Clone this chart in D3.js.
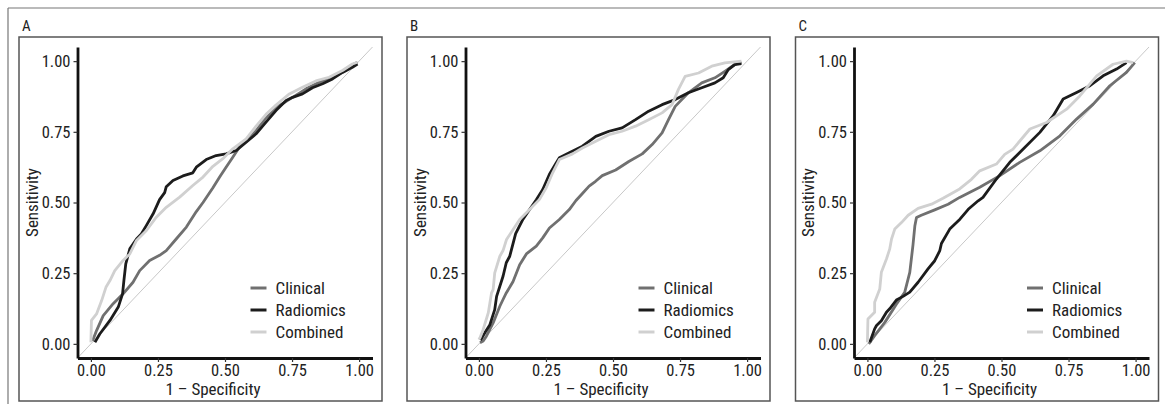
<!DOCTYPE html>
<html>
<head>
<meta charset="utf-8">
<script src="https://cdn.jsdelivr.net/npm/d3@7"></script>
<style>
  body { margin: 0; background: #fff; }
  text { font-family: "Liberation Sans Narrow", "Arial Narrow", "Roboto Condensed", sans-serif; fill: #222; }
</style>
</head>
<body>
<div id="chartDiv"></div>
<script>
// ---- data (1 - specificity, sensitivity) ----
var panelLabels = ["A", "B", "C"];
var seriesNames = ["Clinical", "Radiomics", "Combined"];
var tickValues = [0, 0.25, 0.5, 0.75, 1];
var tickLabels = ["0.00", "0.25", "0.50", "0.75", "1.00"];

var clinicalA = [[0.006,0.01],[0.021,0.047],[0.046,0.10],[0.083,0.142],[0.12,0.177],[0.157,0.218],[0.182,0.259],[0.219,0.295],[0.256,0.313],[0.281,0.33],[0.318,0.371],[0.356,0.413],[0.393,0.468],[0.418,0.50],[0.455,0.552],[0.48,0.59],[0.504,0.625],[0.529,0.66],[0.554,0.696],[0.579,0.722],[0.616,0.754],[0.653,0.80],[0.703,0.843],[0.752,0.872],[0.802,0.902],[0.851,0.925],[0.901,0.943],[0.95,0.967],[0.981,0.99],[0.994,0.996]];
var radiomicsA = [[0.015,0.006],[0.033,0.035],[0.071,0.083],[0.102,0.13],[0.118,0.177],[0.123,0.224],[0.13,0.283],[0.145,0.336],[0.17,0.371],[0.188,0.389],[0.207,0.419],[0.232,0.46],[0.256,0.51],[0.275,0.535],[0.281,0.556],[0.306,0.578],[0.343,0.594],[0.38,0.605],[0.393,0.625],[0.43,0.652],[0.467,0.666],[0.504,0.672],[0.542,0.684],[0.579,0.713],[0.616,0.743],[0.653,0.784],[0.69,0.825],[0.728,0.861],[0.752,0.872],[0.789,0.884],[0.826,0.906],[0.864,0.92],[0.901,0.937],[0.938,0.96],[0.975,0.978],[0.994,0.99]];
var combinedA = [[0.0,0.006],[0.002,0.083],[0.021,0.106],[0.04,0.153],[0.056,0.2],[0.071,0.224],[0.089,0.259],[0.12,0.295],[0.145,0.318],[0.17,0.366],[0.207,0.401],[0.244,0.448],[0.281,0.483],[0.331,0.519],[0.38,0.56],[0.418,0.59],[0.455,0.628],[0.492,0.655],[0.529,0.69],[0.579,0.725],[0.616,0.77],[0.653,0.812],[0.69,0.845],[0.74,0.884],[0.789,0.908],[0.839,0.93],[0.888,0.943],[0.938,0.967],[0.975,0.99],[0.994,0.996]];

var clinicalB = [[0.004,0.004],[0.016,0.01],[0.028,0.027],[0.053,0.074],[0.078,0.133],[0.09,0.157],[0.102,0.18],[0.127,0.22],[0.152,0.28],[0.177,0.318],[0.214,0.346],[0.238,0.375],[0.263,0.41],[0.3,0.44],[0.337,0.475],[0.362,0.507],[0.386,0.532],[0.411,0.558],[0.435,0.575],[0.46,0.595],[0.51,0.615],[0.559,0.645],[0.609,0.672],[0.646,0.705],[0.683,0.746],[0.707,0.793],[0.732,0.84],[0.781,0.888],[0.831,0.923],[0.88,0.941],[0.917,0.964],[0.954,0.988],[0.979,0.996]];
var radiomicsB = [[0.006,0.013],[0.022,0.039],[0.041,0.068],[0.059,0.121],[0.066,0.168],[0.09,0.239],[0.102,0.287],[0.115,0.31],[0.137,0.39],[0.164,0.44],[0.189,0.475],[0.214,0.51],[0.238,0.546],[0.263,0.600],[0.288,0.640],[0.3,0.658],[0.337,0.676],[0.386,0.699],[0.436,0.734],[0.485,0.752],[0.534,0.764],[0.584,0.793],[0.633,0.823],[0.683,0.846],[0.732,0.864],[0.781,0.888],[0.831,0.906],[0.88,0.923],[0.911,0.941],[0.93,0.97],[0.954,0.988],[0.979,0.991]];
var combinedB = [[0,0.015],[0.004,0.022],[0.016,0.051],[0.035,0.11],[0.047,0.18],[0.053,0.192],[0.059,0.251],[0.078,0.31],[0.09,0.33],[0.103,0.369],[0.127,0.404],[0.152,0.44],[0.189,0.475],[0.226,0.511],[0.251,0.552],[0.275,0.605],[0.3,0.652],[0.349,0.672],[0.386,0.693],[0.436,0.717],[0.485,0.74],[0.534,0.752],[0.584,0.77],[0.633,0.793],[0.683,0.817],[0.72,0.846],[0.744,0.9],[0.769,0.946],[0.819,0.958],[0.868,0.982],[0.917,0.994],[0.979,1.0]];

var clinicalC = [[0.005,0],[0.027,0.029],[0.065,0.076],[0.108,0.14],[0.139,0.182],[0.158,0.253],[0.17,0.35],[0.177,0.418],[0.183,0.447],[0.201,0.455],[0.251,0.474],[0.301,0.494],[0.344,0.518],[0.419,0.554],[0.494,0.595],[0.568,0.642],[0.643,0.683],[0.718,0.736],[0.78,0.795],[0.842,0.848],[0.904,0.913],[0.966,0.96],[0.997,0.995]];
var radiomicsC = [[0.009,0.006],[0.027,0.053],[0.034,0.065],[0.052,0.082],[0.071,0.112],[0.083,0.124],[0.108,0.155],[0.133,0.168],[0.158,0.183],[0.189,0.218],[0.226,0.265],[0.251,0.294],[0.27,0.33],[0.276,0.355],[0.307,0.406],[0.345,0.441],[0.376,0.476],[0.413,0.506],[0.431,0.518],[0.481,0.583],[0.531,0.642],[0.581,0.689],[0.643,0.748],[0.693,0.807],[0.73,0.866],[0.78,0.889],[0.83,0.913],[0.879,0.948],[0.929,0.972],[0.966,0.995]];
var combinedC = [[0,0.006],[0.002,0.088],[0.027,0.112],[0.027,0.147],[0.046,0.194],[0.052,0.253],[0.071,0.3],[0.083,0.335],[0.09,0.371],[0.102,0.406],[0.127,0.429],[0.152,0.455],[0.189,0.479],[0.239,0.494],[0.282,0.515],[0.344,0.548],[0.388,0.582],[0.419,0.612],[0.481,0.636],[0.512,0.67],[0.543,0.689],[0.606,0.76],[0.668,0.783],[0.743,0.83],[0.792,0.877],[0.855,0.948],[0.916,0.989],[0.966,1.0],[0.991,0.995]];

var panelData = [
  [clinicalA, radiomicsA, combinedA],
  [clinicalB, radiomicsB, combinedB],
  [clinicalC, radiomicsC, combinedC]
];
var colors = ["#707070", "#1c1c1c", "#d0d0d0"];

// ---- layout ----
var svg = d3.select("#chartDiv").append("svg")
    .attr("width", 1165)
    .attr("height", 404);

var axisX = [77.5, 465.5, 854];   // y-axis position of each panel
var axisLen = 295,
    yTop = 47, yBottom = 358;

// outer figure lines
svg.append("line").attr("x1", 8).attr("x2", 1165).attr("y1", 8).attr("y2", 8)
    .attr("stroke", "#777").attr("stroke-width", 1.2);
svg.append("line").attr("x1", 8).attr("x2", 8).attr("y1", 8).attr("y2", 404)
    .attr("stroke", "#777").attr("stroke-width", 1.2);

panelLabels.forEach(function(lab, i) {
  var ax = axisX[i];
  var g = svg.append("g");

  // panel frame
  g.append("rect")
    .attr("x", ax - 58.5).attr("y", 37)
    .attr("width", 363).attr("height", 364)
    .attr("fill", "none").attr("stroke", "#555").attr("stroke-width", 1.5);

  g.append("text")
    .attr("x", ax - 55.5).attr("y", 31)
    .attr("font-size", 15)
    .text(lab);

  var x = d3.scaleLinear().domain([-0.05, 1.05]).range([ax, ax + axisLen]);
  var y = d3.scaleLinear().domain([-0.05, 1.05]).range([yBottom, yTop]);

  // reference diagonal
  g.append("line")
    .attr("x1", x(-0.05)).attr("y1", y(-0.05))
    .attr("x2", x(1.05)).attr("y2", y(1.05))
    .attr("stroke", "#c8c8c8").attr("stroke-width", 1);

  var line = d3.line()
    .x(function(d) { return x(d[0]); })
    .y(function(d) { return y(d[1]); });

  panelData[i].forEach(function(pts, s) {
    g.append("path")
      .datum(pts)
      .attr("d", line)
      .attr("fill", "none")
      .attr("stroke", colors[s])
      .attr("stroke-width", 2.8)
      .attr("stroke-linejoin", "round");
  });

  var fmt = function(d) { return tickLabels[tickValues.indexOf(d)]; };

  var xAxis = d3.axisBottom(x).tickValues(tickValues).tickFormat(fmt)
      .tickSize(4).tickSizeOuter(0).tickPadding(2);
  var yAxis = d3.axisLeft(y).tickValues(tickValues).tickFormat(fmt)
      .tickSize(4).tickSizeOuter(0).tickPadding(3);

  var xg = g.append("g").attr("transform", "translate(0," + yBottom + ")").call(xAxis);
  var yg = g.append("g").attr("transform", "translate(" + ax + ",0)").call(yAxis);

  [xg, yg].forEach(function(a) {
    a.attr("font-family", null).attr("font-size", null);
    a.select(".domain").attr("stroke", "#111").attr("stroke-width", 2.8);
    a.selectAll(".tick line").attr("stroke", "#333").attr("stroke-width", 1.2);
    a.selectAll(".tick text").attr("font-size", 16.5).attr("fill", "#222");
  });

  // axis titles
  g.append("text")
    .attr("x", x(0.5) - 12).attr("y", 395)
    .attr("text-anchor", "middle")
    .attr("font-size", 17)
    .text("1 \u2013 Specificity");

  g.append("text")
    .attr("transform", "translate(" + (ax - 40) + "," + y(0.5) + ") rotate(-90)")
    .attr("text-anchor", "middle")
    .attr("font-size", 17)
    .text("Sensitivity");

  // legend
  var leg = g.append("g").attr("transform", "translate(" + (ax + 173) + ",288)");
  seriesNames.forEach(function(name, s) {
    leg.append("line")
      .attr("x1", 0).attr("x2", 16)
      .attr("y1", s * 22).attr("y2", s * 22)
      .attr("stroke", colors[s]).attr("stroke-width", 3);
    leg.append("text")
      .attr("x", 25).attr("y", s * 22)
      .attr("dy", "0.36em")
      .attr("font-size", 17)
      .text(name);
  });
});
</script>
</body>
</html>
